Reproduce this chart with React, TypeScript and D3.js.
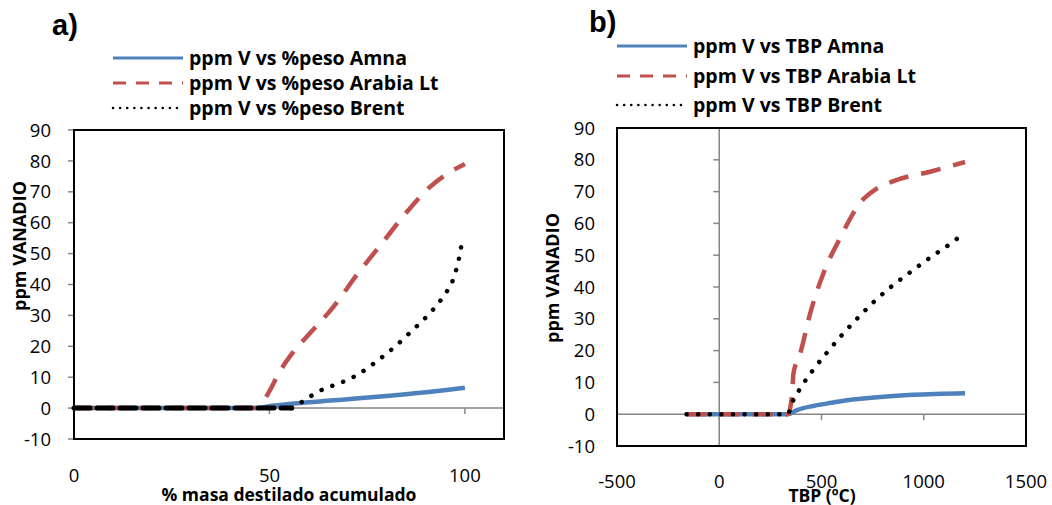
import React from 'react';
import * as d3 from 'd3';

type Pt = [number, number];

// Panel a: ppm V vs % mass distilled
const amnaPeso: Pt[] = [[0, 0], [47, 0], [50, 0.6], [55, 1.3], [60, 1.9], [70, 2.9], [80, 3.9], [90, 5.1], [100, 6.6]];
const arabiaPeso: Pt[] = [[0, 0], [46.8, 0], [50, 5.5], [52.4, 11.3], [56, 18], [60.4, 24.3], [66.3, 32.7], [72.7, 43.7], [79, 53.7], [85.5, 64], [91, 71.5], [95.7, 76], [100, 79]];
const brentPeso: Pt[] = [[0, 0], [55.7, 0], [58.2, 1.9], [61, 4.2], [64.2, 6.4], [67.2, 7.7], [72.4, 10.7], [77.8, 15.5], [82.2, 20], [86.6, 25.2], [90.8, 30.4], [94.5, 36.2], [97.2, 42.4], [98.7, 49.8], [99.2, 53.4]];

// Panel b: ppm V vs TBP (ºC)
const amnaTbp: Pt[] = [[-160, 0], [337, 0], [380, 1.3], [460, 2.6], [550, 3.6], [626, 4.4], [787, 5.4], [948, 6.1], [1202, 6.6]];
const arabiaTbp: Pt[] = [[-160, 0], [335, 0], [355, 5.5], [363, 12.8], [396, 19.1], [445, 31.8], [510, 44.4], [591, 55.4], [689, 66.5], [760, 70.5], [852, 73.3], [1040, 76.4], [1202, 79.3]];
const brentTbp: Pt[] = [[-160, 0], [335, 0], [355, 3.4], [396, 8.1], [461, 14.1], [531, 19.7], [604, 25.2], [681, 30.5], [762, 35.7], [847, 40.4], [937, 44.8], [1028, 49.1], [1121, 53.2], [1165, 55.3]];

const yTicks = [-10, 0, 10, 20, 30, 40, 50, 60, 70, 80, 90];
const xTicksPeso = [0, 50, 100];
const xTicksTbp = [-500, 0, 500, 1000, 1500];

const legendPeso = ['ppm V vs %peso Amna', 'ppm V vs %peso Arabia Lt', 'ppm V vs %peso Brent'];
const legendTbp = ['ppm V vs TBP Amna', 'ppm V vs TBP Arabia Lt', 'ppm V vs TBP Brent'];

const FONT = "'Open Sans', 'Noto Sans', sans-serif";
const BLUE = '#4f81bd';
const RED = '#c0504d';
const AXIS = '#868686';

const styles = [
  { color: BLUE, dash: undefined as string | undefined, width: 4.5, cap: 'butt', legDash: undefined as string | undefined, legWidth: 3 },
  { color: RED, dash: '20 13', width: 4.5, cap: 'butt', legDash: '13 10', legWidth: 3 },
  { color: '#000', dash: '0.1 11.5', width: 4.5, cap: 'round', legDash: '0.1 7', legWidth: 2.5 },
];

interface PanelProps {
  series: Pt[][];
  labels: string[];
  xDomain: [number, number];
  xRange: [number, number];
  yRange: [number, number];
  xTicks: number[];
  xTickY: number;
  yTickX: number;
  yAxisAt: number;
  tag: string;
  tagPos: [number, number];
  legendX: number;
  legendYs: number[];
  xTitle: string;
  xTitlePos: [number, number];
  yTitlePos: [number, number];
  flatDash?: boolean;
}

const Panel: React.FC<PanelProps> = (p) => {
  const x = d3.scaleLinear().domain(p.xDomain).range(p.xRange);
  const y = d3.scaleLinear().domain([-10, 90]).range(p.yRange);
  const line = d3.line<Pt>().x((d) => x(d[0])).y((d) => y(d[1])).curve(d3.curveMonotoneX);
  const ax = x(p.yAxisAt);
  const y0 = y(0);

  return (
    <g fontFamily={FONT}>
      <text x={p.tagPos[0]} y={p.tagPos[1]} fontFamily="'Liberation Sans', Arial, sans-serif" fontWeight="bold" fontSize={29}>{p.tag}</text>

      {p.labels.map((l, i) => (
        <g key={l}>
          <line x1={p.legendX} x2={p.legendX + 70} y1={p.legendYs[i]} y2={p.legendYs[i]}
            stroke={styles[i].color} strokeWidth={styles[i].legWidth} strokeDasharray={styles[i].legDash}
            strokeLinecap={styles[i].cap as any} />
          <text x={p.legendX + 76} y={p.legendYs[i]} dy="0.36em" fontWeight="bold" fontSize={19.5}>{l}</text>
        </g>
      ))}

      {/* axes */}
      <line x1={ax} x2={ax} y1={p.yRange[1]} y2={p.yRange[0]} stroke={AXIS} strokeWidth={1.5} />
      <line x1={p.xRange[0]} x2={p.xRange[1]} y1={y0} y2={y0} stroke={AXIS} strokeWidth={1.5} />
      {yTicks.map((t) => (
        <g key={t}>
          <line x1={ax - 6} x2={ax} y1={y(t)} y2={y(t)} stroke={AXIS} strokeWidth={1.5} />
          <text x={p.yTickX} y={y(t)} dy="0.36em" textAnchor="end" fontSize={18.5}>{t}</text>
        </g>
      ))}
      {p.xTicks.map((t) => (
        <g key={t}>
          <line x1={x(t)} x2={x(t)} y1={y0} y2={y0 + 6} stroke={AXIS} strokeWidth={1.5} />
          <text x={x(t)} y={p.xTickY} textAnchor="middle" fontSize={18.5}>{t}</text>
        </g>
      ))}

      {/* plot area border */}
      <rect x={p.xRange[0]} y={p.yRange[1]} width={p.xRange[1] - p.xRange[0]} height={p.yRange[0] - p.yRange[1]}
        fill="none" stroke="#000" strokeWidth={2} />

      {p.series.map((s, i) => {
        const st = styles[i];
        if (i === 2 && p.flatDash) {
          const k = s.findIndex((d) => d[1] > 0) - 1;
          return (
            <g key={i}>
              <path d={line(s.slice(0, k + 1)) || ''} fill="none" stroke={st.color} strokeWidth={5}
                strokeDasharray="16 7" strokeLinecap="round" />
              <path d={line(s.slice(k)) || ''} fill="none" stroke={st.color} strokeWidth={st.width}
                strokeDasharray={st.dash} strokeLinecap={st.cap as any} />
            </g>
          );
        }
        return (
          <path key={i} d={line(s) || ''} fill="none" stroke={st.color} strokeWidth={st.width}
            strokeDasharray={st.dash} strokeLinecap={st.cap as any} strokeLinejoin="round" />
        );
      })}

      <text x={p.xTitlePos[0]} y={p.xTitlePos[1]} textAnchor="middle" fontWeight="bold" fontSize={17.5}>{p.xTitle}</text>
      <text transform={`translate(${p.yTitlePos[0]},${p.yTitlePos[1]}) rotate(-90)`} textAnchor="middle" dy="0.35em"
        fontWeight="bold" fontSize={18}>ppm VANADIO</text>
    </g>
  );
};

export default function App() {
  return (
    <svg width={1052} height={505} style={{ position: 'fixed', left: 0, top: 0, background: '#fff' }}>
      <rect width={1052} height={505} fill="#fff" />
      <Panel
        series={[amnaPeso, arabiaPeso, brentPeso]}
        labels={legendPeso}
        xDomain={[0, 110]} xRange={[74, 504]} yRange={[439, 130]}
        xTicks={xTicksPeso} xTickY={482} yTickX={51} yAxisAt={0}
        tag="a)" tagPos={[52, 35]}
        legendX={113} legendYs={[58, 83, 108]}
        xTitle="% masa destilado acumulado" xTitlePos={[289, 501]} yTitlePos={[20, 246]}
        flatDash
      />
      <Panel
        series={[amnaTbp, arabiaTbp, brentTbp]}
        labels={legendTbp}
        xDomain={[-500, 1500]} xRange={[617, 1026]} yRange={[446, 128]}
        xTicks={xTicksTbp} xTickY={488} yTickX={595} yAxisAt={0}
        tag="b)" tagPos={[589, 32]}
        legendX={617} legendYs={[46, 76, 105]}
        xTitle="TBP (ºC)" xTitlePos={[822, 502]} yTitlePos={[553, 278]}
      />
    </svg>
  );
}
